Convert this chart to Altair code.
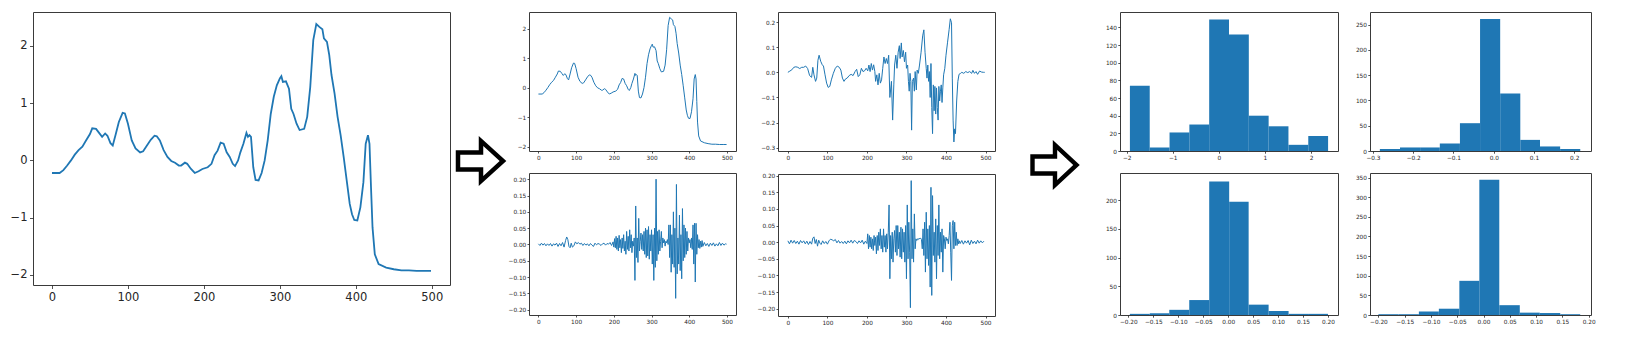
import altair as alt
import pandas as pd

# ---------------- data ----------------
SIGNAL = [(0,-0.22),(10,-0.22),(15,-0.17),(20,-0.09),(25,0.0),(30,0.1),(35,0.18),(40,0.24),(45,0.35),(50,0.46),
          (53,0.56),(58,0.55),(62,0.48),(66,0.41),(70,0.47),(73,0.43),(77,0.30),(80,0.26),(84,0.46),(88,0.67),
          (93,0.83),(96,0.82),(100,0.64),(105,0.35),(110,0.21),(116,0.14),(120,0.16),(125,0.26),(130,0.36),(135,0.43),
          (138,0.42),(142,0.35),(147,0.18),(152,0.06),(157,-0.01),(162,-0.04),(167,-0.09),(170,-0.09),(175,-0.04),(178,-0.06),
          (183,-0.15),(188,-0.22),(193,-0.19),(198,-0.15),(205,-0.12),(210,-0.06),(214,0.09),(218,0.17),(222,0.31),(226,0.29),
          (230,0.14),(234,0.06),(238,-0.06),(241,-0.10),(245,0.0),(248,0.14),(252,0.29),(256,0.48),(258,0.41),(260,0.44),
          (262,0.41),(265,-0.12),(268,-0.34),(272,-0.35),(276,-0.22),(280,0.0),(284,0.35),(288,0.81),(292,1.11),(296,1.31),
          (300,1.43),(302,1.47),(304,1.37),(308,1.38),(312,1.25),(315,0.90),(318,0.81),(322,0.64),(326,0.53),(332,0.55),
          (336,0.76),(340,1.28),(344,2.10),(348,2.38),(352,2.33),(356,2.29),(358,2.13),(362,2.07),(365,1.84),(368,1.49),
          (372,1.17),(376,0.76),(380,0.44),(384,0.06),(388,-0.35),(392,-0.76),(395,-0.94),(398,-1.04),(402,-1.05),(406,-0.82),
          (410,-0.38),(413,0.29),(416,0.44),(418,0.29),(420,-0.47),(422,-1.17),(425,-1.64),(430,-1.81),(440,-1.87),(450,-1.90),
          (460,-1.92),(470,-1.92),(480,-1.93),(490,-1.93),(499,-1.93)]

DIFF1 = [(0,0.0),(5,0.005),(10,0.01),(15,0.02),(20,0.022),(25,0.02),(30,0.015),(35,0.02),(40,0.02),(45,0.025),
         (50,0.015),(55,-0.013),(60,-0.02),(63,0.02),(66,-0.01),(70,-0.036),(73,-0.023),(76,0.048),(79,0.068),(83,0.044),
         (87,0.03),(90,0.025),(94,-0.01),(98,-0.043),(102,-0.06),(106,-0.056),(110,-0.03),(115,-0.004),(120,0.016),(125,0.025),
         (130,0.02),(134,0.009),(138,-0.023),(142,-0.036),(146,-0.026),(150,-0.023),(155,-0.013),(160,-0.008),(165,-0.013),(170,0.003),
         (174,0.012),(178,-0.017),(182,-0.01),(186,0.016),(190,0.003),(194,0.006),(198,0.016),(202,0.006),(205,0.029),(208,0.003),
         (211,0.035),(214,0.009),(217,0.03),(220,0.003),(222,-0.036),(225,-0.01),(228,-0.05),(231,-0.004),(234,-0.043),(237,-0.03),
         (240,0.016),(243,0.061),(246,0.035),(249,0.055),(252,0.035),(255,0.068),(258,-0.1),(262,-0.036),(265,-0.19),(268,-0.05),
         (270,0.029),(273,0.068),(276,0.016),(279,0.08),(282,0.106),(284,0.055),(287,0.117),(289,0.061),(292,0.087),(295,0.042),
         (298,0.08),(300,0.016),(303,0.029),(305,-0.036),(307,-0.075),(309,-0.004),(311,-0.036),(313,-0.23),(315,-0.036),(318,-0.023),
         (320,-0.075),(322,0.003),(325,-0.07),(327,0.009),(330,-0.004),(333,0.029),(337,0.08),(341,0.145),(344,0.169),(347,0.08),
         (350,0.016),(352,-0.023),(354,0.029),(356,-0.036),(358,0.003),(360,-0.1),(362,0.035),(364,-0.14),(366,-0.244),(368,-0.05),
         (370,-0.153),(372,-0.056),(374,-0.166),(376,-0.062),(378,-0.14),(380,-0.19),(382,-0.056),(384,-0.114),(386,-0.075),(388,-0.05),
         (390,-0.12),(392,-0.062),(394,-0.01),(397,0.016),(400,0.068),(404,0.12),(408,0.171),(411,0.213),(414,0.197),(416,-0.023),
         (418,-0.19),(420,-0.277),(422,-0.225),(424,-0.244),(427,-0.114),(430,-0.036),(433,-0.008),(437,-0.004),(440,0.0),(445,-0.004),
         (450,0.003),(455,-0.001),(460,0.003),(465,-0.004),(468,0.008),(472,-0.004),(476,0.003),(480,-0.008),(485,0.005),(490,0.001),
         (495,0.0),(498,0.0)]

DETAIL_A = [(0,0.002),(4,-0.003),(8,0.004),(12,-0.002),(16,0.003),(20,-0.004),(24,0.002),(28,-0.003),(32,0.003),(36,-0.005),
            (40,0.002),(44,-0.002),(48,0.004),(52,-0.006),(56,0.003),(60,-0.004),(64,0.006),(68,-0.008),(72,0.012),(75,0.023),
            (78,0.015),(81,-0.006),(84,-0.01),(87,0.004),(90,-0.008),(94,-0.004),(98,0.008),(102,0.002),(106,0.006),(110,0.001),
            (114,0.004),(118,-0.003),(122,0.003),(126,-0.002),(130,0.002),(134,-0.004),(138,0.003),(142,-0.002),(146,-0.006),(150,0.004),
            (154,-0.001),(158,0.003),(162,0.001),(166,-0.003),(170,0.002),(174,0.004),(178,-0.002),(182,0.003),(186,0.001),(190,0.006),
            (194,-0.003),(198,0.008),(200,-0.008),(202,0.018),(204,-0.01),(206,0.025),(208,-0.015),(210,0.02),(212,-0.02),(214,0.028),
            (216,-0.01),(218,0.015),(220,-0.025),(222,0.02),(224,-0.012),(226,0.03),(228,-0.02),(230,0.01),(232,-0.03),(234,0.04),
            (236,-0.015),(238,0.025),(240,-0.02),(242,0.045),(244,-0.01),(246,0.03),(248,-0.025),(250,0.01),(252,-0.005),(254,0.02),
            (256,-0.11),(258,0.118),(260,-0.04),(262,0.02),(264,-0.055),(266,0.08),(268,-0.02),(270,0.01),(272,0.035),(274,-0.015),
            (276,0.03),(278,-0.02),(280,0.04),(282,-0.03),(284,0.05),(286,-0.04),(288,0.045),(290,-0.035),(292,0.055),(294,-0.045),
            (296,0.03),(298,-0.02),(300,0.045),(302,-0.06),(304,0.03),(306,-0.11),(308,0.05),(310,-0.07),(312,0.20),(314,-0.05),
            (316,0.04),(318,-0.03),(320,0.045),(322,-0.02),(324,0.01),(326,0.04),(328,-0.01),(330,0.02),(332,0.005),(334,0.015),
            (336,-0.005),(338,0.01),(340,0.005),(342,0.015),(344,0.0),(346,0.06),(348,-0.04),(350,0.06),(352,-0.085),(354,0.03),
            (356,-0.06),(358,0.1),(360,-0.07),(362,0.05),(364,-0.165),(366,0.184),(368,-0.09),(370,0.02),(372,-0.06),(374,0.09),
            (376,-0.08),(378,0.03),(380,-0.105),(382,0.11),(384,-0.05),(386,0.06),(388,-0.04),(390,0.05),(392,-0.03),(394,0.04),
            (396,-0.02),(398,0.02),(400,0.005),(402,0.015),(404,-0.01),(406,0.02),(408,-0.015),(410,0.06),(412,-0.06),(414,0.065),
            (416,-0.115),(418,0.065),(420,-0.03),(422,0.03),(424,-0.01),(426,0.015),(428,-0.012),(430,0.01),(432,-0.008),(434,0.012),
            (436,-0.006),(440,0.006),(444,-0.004),(448,0.003),(452,-0.006),(456,0.004),(460,-0.003),(464,0.005),(468,-0.005),(472,0.002),
            (476,-0.004),(480,0.006),(484,-0.003),(488,0.004),(492,-0.002),(496,0.002),(499,0.001)]

DETAIL_B = [(0,0.004),(4,-0.005),(8,0.006),(12,-0.003),(16,0.005),(20,-0.004),(24,0.003),(28,-0.006),(32,0.005),(36,-0.002),
            (40,0.004),(44,-0.005),(48,0.003),(52,-0.007),(56,0.002),(60,-0.006),(63,0.012),(66,0.016),(69,-0.004),(72,0.008),
            (75,-0.012),(78,0.006),(81,-0.003),(84,-0.007),(88,0.004),(92,-0.004),(96,0.002),(100,-0.006),(104,0.004),(108,0.009),
            (112,0.007),(116,0.004),(120,0.008),(124,-0.002),(128,0.005),(132,-0.003),(136,0.002),(140,-0.004),(144,0.003),(148,-0.005),
            (152,0.004),(156,-0.002),(160,0.006),(164,-0.003),(168,0.005),(172,0.002),(176,-0.004),(180,0.004),(184,-0.002),(188,0.006),
            (192,-0.006),(196,0.003),(200,-0.004),(202,0.025),(204,-0.02),(206,0.02),(208,-0.015),(210,0.015),(212,-0.02),(214,0.01),
            (216,-0.025),(218,0.02),(220,-0.01),(222,0.015),(224,-0.035),(226,0.02),(228,-0.025),(230,0.03),(232,-0.01),(234,0.04),
            (236,-0.02),(238,0.02),(240,-0.03),(242,0.04),(244,-0.015),(246,0.02),(248,-0.03),(250,0.025),(252,-0.02),(254,0.03),
            (256,0.112),(258,-0.11),(260,0.02),(262,-0.05),(264,0.03),(266,-0.06),(268,0.01),(270,0.035),(272,-0.03),(274,0.05),
            (276,-0.04),(278,0.05),(280,-0.02),(282,0.03),(284,-0.045),(286,0.045),(288,-0.05),(290,0.04),(292,-0.03),(294,0.03),
            (296,-0.06),(298,0.05),(300,-0.11),(302,0.112),(304,-0.05),(306,0.06),(308,-0.03),(310,-0.197),(312,0.185),(314,-0.05),
            (316,0.04),(318,-0.06),(320,0.085),(322,-0.02),(324,0.01),(326,0.005),(328,0.01),(330,0.008),(332,0.012),(334,0.01),
            (336,0.012),(338,0.008),(340,-0.02),(342,0.04),(344,-0.04),(346,0.06),(348,-0.09),(350,0.09),(352,-0.05),(354,0.04),
            (356,-0.07),(358,0.05),(360,-0.135),(362,0.165),(364,-0.16),(366,0.14),(368,-0.04),(370,0.03),(372,-0.06),(374,0.07),
            (376,-0.11),(378,0.05),(380,-0.04),(382,0.112),(384,-0.05),(386,0.03),(388,-0.03),(390,0.04),(392,-0.09),(394,0.02),
            (396,0.01),(398,-0.02),(400,0.015),(402,0.005),(404,0.01),(406,-0.005),(408,0.02),(410,0.06),(412,-0.03),(414,-0.115),
            (416,0.05),(418,0.065),(420,-0.02),(422,0.06),(424,-0.01),(426,0.03),(428,-0.01),(430,0.01),(432,-0.005),(434,0.004),
            (436,-0.004),(440,0.005),(444,-0.006),(448,0.004),(452,-0.003),(456,0.005),(460,-0.008),(464,0.006),(468,-0.004),(472,0.003),
            (476,-0.005),(480,0.006),(484,-0.003),(488,0.004),(492,-0.002),(496,0.003)]

H1_EDGES = [-1.93, -1.50, -1.07, -0.64, -0.21, 0.22, 0.65, 1.08, 1.51, 1.94, 2.37]
H1_COUNTS = [74, 4, 21, 30, 149, 132, 40, 28, 7, 17]
H2_EDGES = [-0.283, -0.233, -0.183, -0.134, -0.084, -0.034, 0.016, 0.066, 0.115, 0.165, 0.215]
H2_COUNTS = [4, 7, 7, 15, 55, 261, 114, 22, 9, 4]
H3_EDGES = [-0.197, -0.157, -0.118, -0.078, -0.038, 0.002, 0.041, 0.081, 0.121, 0.160, 0.200]
H3_COUNTS = [2, 3, 9, 26, 232, 197, 18, 7, 2, 2]
H4_EDGES = [-0.200, -0.162, -0.123, -0.085, -0.046, -0.008, 0.030, 0.069, 0.107, 0.146, 0.184]
H4_COUNTS = [2, 2, 9, 16, 87, 344, 25, 6, 5, 2]

T_X_SERIES = [0, 100, 200, 300, 400, 500]
T_Y_SIGNAL = [-2, -1, 0, 1, 2]
T_Y_DIFF1 = [-0.3, -0.2, -0.1, 0.0, 0.1, 0.2]
T_Y_DETAIL = [-0.20, -0.15, -0.10, -0.05, 0.0, 0.05, 0.10, 0.15, 0.20]
T_X_H1 = [-2, -1, 0, 1, 2]
T_Y_H1 = [0, 20, 40, 60, 80, 100, 120, 140]
T_X_H2 = [-0.3, -0.2, -0.1, 0.0, 0.1, 0.2]
T_Y_H2 = [0, 50, 100, 150, 200, 250]
T_X_H34 = [-0.20, -0.15, -0.10, -0.05, 0.0, 0.05, 0.10, 0.15, 0.20]
T_Y_H3 = [0, 50, 100, 150, 200]
T_Y_H4 = [0, 50, 100, 150, 200, 250, 300, 350]

# block-arrow outline, as outer (black) and inner (white) silhouettes, in arrow units
ARROW_OUT_X = [-2.25, 20.75, 20.76, 48.33]
ARROW_OUT_TOP = [9.35, 9.35, -5.08, 20.0]
ARROW_OUT_BOT = [30.65, 30.65, 45.08, 20.0]
ARROW_IN_X = [2.25, 25.25, 25.26, 41.65]
ARROW_IN_TOP = [13.85, 13.85, 5.08, 20.0]
ARROW_IN_BOT = [26.15, 26.15, 34.92, 20.0]

# ---------------- styling ----------------
BLUE = "#1f77b4"
FRAME = "#3a3a3a"
TXT = "#262626"
MINUS = "replace(datum.label, '-', '\u2212')"
SMALL_FS = 5.8


def make_axis(values, fmt, fs, tick, pad, extent=None):
    kw = dict(values=values, format=fmt, labelFontSize=fs, labelFont="DejaVu Sans",
              labelColor=TXT, tickColor=TXT, tickSize=tick, tickWidth=0.8, labelPadding=pad,
              domain=False, grid=False, labelOverlap=False, labelFlush=False, labelExpr=MINUS)
    if extent is not None:
        kw.update(minExtent=extent, maxExtent=extent)
    return alt.Axis(**kw)


def view():
    return alt.ViewBackground(stroke=FRAME, strokeWidth=1, fill="white")


def line_panel(pts, xdom, ydom, xt, yt, yfmt, w, h, fs, tick, pad, lw, yext, xext=None):
    df = pd.DataFrame(pts, columns=["x", "y"])
    return alt.Chart(df).mark_line(color=BLUE, strokeWidth=lw, clip=True).encode(
        x=alt.X("x:Q", title=None, scale=alt.Scale(domain=xdom, nice=False, zero=False),
                axis=make_axis(xt, "d", fs, tick, pad, xext)),
        y=alt.Y("y:Q", title=None, scale=alt.Scale(domain=ydom, nice=False, zero=False),
                axis=make_axis(yt, yfmt, fs, tick, pad, yext)),
    ).properties(width=w, height=h, view=view())


def hist_panel(edges, counts, xdom, ymax, xt, xfmt, yt, w, h, yext, xext=None):
    df = pd.DataFrame({"lo": edges[:-1], "hi": edges[1:], "n": counts})
    return alt.Chart(df).mark_rect(color=BLUE, clip=True).encode(
        x=alt.X("lo:Q", title=None, scale=alt.Scale(domain=xdom, nice=False, zero=False),
                axis=make_axis(xt, xfmt, SMALL_FS, 2.2, 1.3, xext)),
        x2="hi:Q",
        y=alt.Y("n:Q", title=None, scale=alt.Scale(domain=[0, ymax], nice=False),
                axis=make_axis(yt, "d", SMALL_FS, 2.2, 1.3, yext)),
        y2=alt.datum(0),
    ).properties(width=w, height=h, view=view())


def arrow_panel(w, h, left, top, sx=1.0):
    out_df = pd.DataFrame({"ax": [v * sx for v in ARROW_OUT_X], "t": ARROW_OUT_TOP, "b": ARROW_OUT_BOT})
    in_df = pd.DataFrame({"ax": [v * sx for v in ARROW_IN_X], "t": ARROW_IN_TOP, "b": ARROW_IN_BOT})
    xs = alt.Scale(domain=[-left, w - left], nice=False, zero=False)
    ys = alt.Scale(domain=[-top, h - top], nice=False, zero=False, reverse=True)
    outer = alt.Chart(out_df).mark_area(color="black", opacity=1).encode(
        x=alt.X("ax:Q", axis=None, scale=xs),
        y=alt.Y("t:Q", axis=None, scale=ys),
        y2="b:Q",
    )
    inner = alt.Chart(in_df).mark_area(color="white", opacity=1).encode(
        x=alt.X("ax:Q", axis=None, scale=xs),
        y=alt.Y("t:Q", axis=None, scale=ys),
        y2="b:Q",
    )
    return alt.layer(outer, inner).properties(width=w, height=h, view=alt.ViewBackground(strokeOpacity=0))


SX_DOM = [-25, 524]
TOP_H, BOT_H, XEXT, VSP = 139, 142, 14, 6

big = line_panel(SIGNAL, SX_DOM, [-2.175, 2.59], T_X_SERIES, T_Y_SIGNAL, "d",
                 417, 273, 11.5, 3.5, 2.5, 1.8, 24)

p_sig = line_panel(SIGNAL, SX_DOM, [-2.15, 2.56], T_X_SERIES, T_Y_SIGNAL, "d",
                   207, TOP_H, SMALL_FS, 2.0, 1.2, 1.0, 21, XEXT)
p_a = line_panel(DETAIL_A, SX_DOM, [-0.216, 0.219], T_X_SERIES, T_Y_DETAIL, ".2f",
                 207, BOT_H, SMALL_FS, 2.0, 1.2, 1.0, 21)
p_d1 = line_panel(DIFF1, SX_DOM, [-0.313, 0.24], T_X_SERIES, T_Y_DIFF1, ".1f",
                  217, TOP_H, SMALL_FS, 2.0, 1.2, 1.0, 40, XEXT)
p_b = line_panel(DETAIL_B, SX_DOM, [-0.222, 0.205], T_X_SERIES, T_Y_DETAIL, ".2f",
                 217, BOT_H, SMALL_FS, 2.0, 1.2, 1.0, 40)

h1 = hist_panel(H1_EDGES, H1_COUNTS, [-2.145, 2.585], 157.5, T_X_H1, "d", T_Y_H1, 218, TOP_H, 24, XEXT)
h3 = hist_panel(H3_EDGES, H3_COUNTS, [-0.2167, 0.22], 247, T_X_H34, ".2f", T_Y_H3, 218, BOT_H, 24)
h2 = hist_panel(H2_EDGES, H2_COUNTS, [-0.3075, 0.2417], 275, T_X_H2, ".1f", T_Y_H2, 221, TOP_H, 30, XEXT)
h4 = hist_panel(H4_EDGES, H4_COUNTS, [-0.216, 0.2045], 361.5, T_X_H34, ".2f", T_Y_H4, 221, BOT_H, 30)

arrow1 = arrow_panel(56, 300, 7, 129)
arrow2 = arrow_panel(99, 300, 36.5, 133, sx=44 / 45)

chart = alt.hconcat(
    big,
    arrow1,
    alt.vconcat(p_sig, p_a, spacing=VSP),
    alt.vconcat(p_d1, p_b, spacing=VSP),
    arrow2,
    alt.vconcat(h1, h3, spacing=VSP),
    alt.vconcat(h2, h4, spacing=VSP),
    spacing=0,
).properties(
    padding={"left": 0, "top": 3, "right": 0, "bottom": 0},
    background="white",
)

chart.save("out.html", embed_options={"renderer": "svg", "actions": False})
